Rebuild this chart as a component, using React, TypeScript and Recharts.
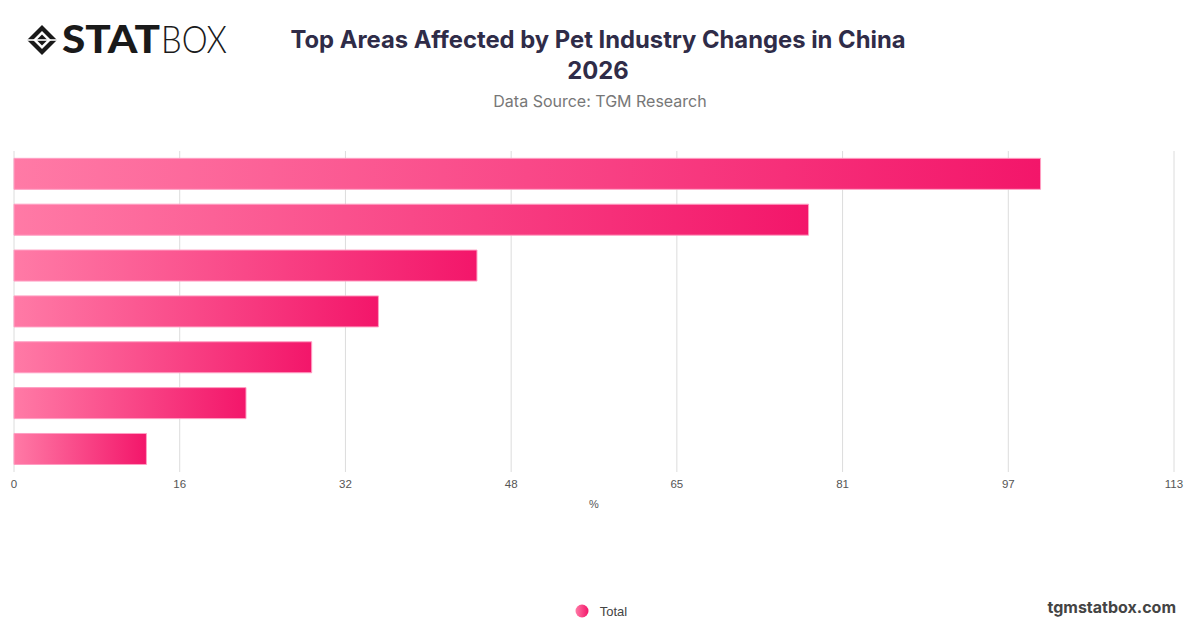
import React from "react";
import { BarChart, Bar, XAxis, YAxis, CartesianGrid, Legend } from "recharts";

const areas = ["Area 1", "Area 2", "Area 3", "Area 4", "Area 5", "Area 6", "Area 7"];
const totals = [100, 77.4, 45.1, 35.5, 29, 22.6, 12.9];
const xTickLabels = ["0", "16", "32", "48", "65", "81", "97", "113"];
const xMax = 113;

const data = areas.map((area, i) => ({ area, total: totals[i] }));
// ticks sit at even steps of the axis, labels are the rounded values
const xTicks = xTickLabels.map((_, i) => (i * xMax) / (xTickLabels.length - 1));

const FONT = "Inter, 'Noto Sans', sans-serif";
const AXIS_FONT = "'Liberation Sans', Arial, sans-serif";

function Logo() {
  return (
    <svg width={215} height={50} style={{ position: "absolute", left: 24, top: 14 }}>
      <g transform="translate(18,26)">
        <path d="M0,-15 L15,0 L0,15 L-15,0 Z" fill="#1a1a1a" />
        <path d="M0,-9 L9,0 L0,9 L-9,0 Z" fill="#fff" />
        <path d="M0,-5.5 L5.5,0 L0,5.5 L-5.5,0 Z" fill="#1a1a1a" />
        <path d="M-15,0 L15,0" stroke="#fff" strokeWidth={1.6} />
      </g>
      <text x={38} y={39} fontFamily="Lato, sans-serif" fontWeight={900} fontSize={37} fill="#1a1a1a" textLength={98} lengthAdjust="spacingAndGlyphs">STAT</text>
      <text x={137} y={39} fontFamily="Lato, sans-serif" fontWeight={300} fontSize={37} fill="#1a1a1a" textLength={66} lengthAdjust="spacingAndGlyphs">BOX</text>
    </svg>
  );
}

function LegendContent() {
  return (
    <div style={{ display: "flex", justifyContent: "center", alignItems: "center", height: 24, paddingLeft: 14, fontFamily: AXIS_FONT }}>
      <svg width={14} height={14} style={{ marginRight: 11 }}>
        <defs>
          <linearGradient id="legendGrad" x1="0" y1="0" x2="1" y2="0">
            <stop offset="0%" stopColor="#ff7aa6" />
            <stop offset="100%" stopColor="#f3166a" />
          </linearGradient>
        </defs>
        <circle cx={7} cy={7} r={6.5} fill="url(#legendGrad)" />
      </svg>
      <span style={{ fontSize: 13, color: "#444" }}>Total</span>
    </div>
  );
}

export default function App() {
  return (
    <div style={{ position: "absolute", left: 0, top: 0, width: 1200, height: 628, background: "#fff", fontFamily: FONT }}>
      <Logo />
      <div style={{ position: "absolute", left: 0, top: 24, width: 1196, textAlign: "center", fontSize: 23.8, fontWeight: 700, color: "#2f2c48", lineHeight: "31px" }}>
        Top Areas Affected by Pet Industry Changes in China
        <br />
        2026
      </div>
      <div style={{ position: "absolute", left: 0, top: 91, width: 1200, textAlign: "center", fontSize: 16, color: "#777" }}>
        Data Source: TGM Research
      </div>
      <div style={{ position: "absolute", right: 24, top: 597, fontSize: 16, fontWeight: 700, color: "#444" }}>
        tgmstatbox.com
      </div>
      <BarChart
        width={1200}
        height={628}
        data={data}
        layout="vertical"
        margin={{ top: 151, right: 26, bottom: 5, left: 14 }}
        barCategoryGap="16%"
      >
        <defs>
          <linearGradient id="barGrad" x1="0" y1="0" x2="1" y2="0">
            <stop offset="0%" stopColor="#ff7aa6" />
            <stop offset="100%" stopColor="#f3166a" />
          </linearGradient>
        </defs>
        <CartesianGrid horizontal={false} stroke="#dcdcdc" />
        <XAxis
          type="number"
          domain={[0, xMax]}
          ticks={xTicks}
          interval={0}
          tickFormatter={(v: number) => xTickLabels[Math.round((v * (xTickLabels.length - 1)) / xMax)]}
          axisLine={false}
          tickLine={false}
          height={127}
          tick={{ fontSize: 11.5, fill: "#555", fontFamily: AXIS_FONT }}
          label={{ value: "%", position: "insideTop", offset: 28, fontSize: 11, fill: "#555", fontFamily: AXIS_FONT }}
        />
        <YAxis type="category" dataKey="area" width={0} tick={false} tickLine={false} axisLine={{ stroke: "#333" }} />
        <Legend verticalAlign="bottom" content={<LegendContent />} />
        <Bar dataKey="total" name="Total" fill="url(#barGrad)" stroke="#ff9fc3" strokeWidth={1} isAnimationActive={false} />
      </BarChart>
    </div>
  );
}
